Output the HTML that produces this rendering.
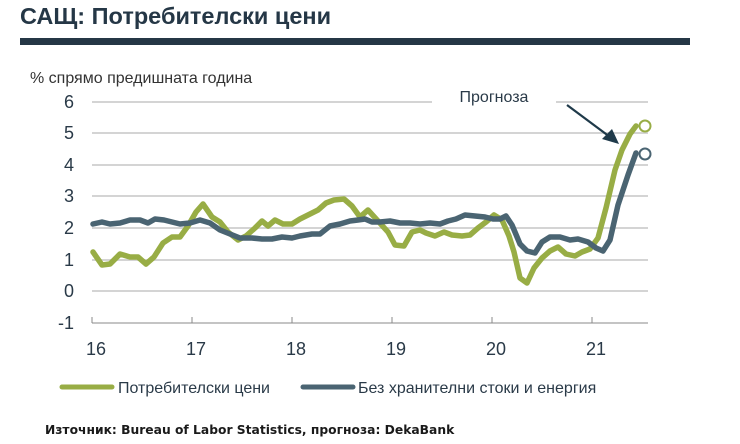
<!DOCTYPE html>
<html><head><meta charset="utf-8"><style>
body{margin:0;background:#fff;width:740px;height:444px;overflow:hidden}
svg{display:block}
</style></head><body>
<svg width="740" height="444" xmlns="http://www.w3.org/2000/svg" font-family="Liberation Sans, sans-serif">
<text x="20" y="24" font-size="23.5" font-weight="bold" fill="#253746">САЩ: Потребителски цени</text>
<rect x="20" y="38" width="670" height="7" fill="#253746"/>
<text x="30" y="83" font-size="16" fill="#333">% спрямо предишната година</text>
<g stroke="#d4d4d4" stroke-width="2">
<line x1="92" y1="102" x2="432" y2="102"/><line x1="556" y1="102" x2="648" y2="102"/>
<line x1="92" y1="133" x2="648" y2="133"/>
<line x1="92" y1="165" x2="648" y2="165"/>
<line x1="92" y1="196" x2="648" y2="196"/>
<line x1="92" y1="228" x2="648" y2="228"/>
<line x1="92" y1="260" x2="648" y2="260"/>
<line x1="92" y1="291" x2="648" y2="291"/>
</g>
<g stroke="#888" stroke-width="1">
<line x1="92" y1="323" x2="648" y2="323"/>
<line x1="92" y1="323" x2="92" y2="317"/><line x1="192" y1="323" x2="192" y2="317"/><line x1="292" y1="323" x2="292" y2="317"/><line x1="392" y1="323" x2="392" y2="317"/><line x1="492" y1="323" x2="492" y2="317"/><line x1="592" y1="323" x2="592" y2="317"/>
</g>
<g font-size="18" fill="#2a3a48" text-anchor="end">
<text x="74" y="108">6</text><text x="74" y="139">5</text><text x="74" y="171">4</text><text x="74" y="202">3</text><text x="74" y="234">2</text><text x="74" y="266">1</text><text x="74" y="297">0</text><text x="74" y="329">-1</text>
</g>
<g font-size="18" fill="#2a3a48" text-anchor="middle">
<text x="96" y="355">16</text><text x="196" y="355">17</text><text x="296" y="355">18</text><text x="396" y="355">19</text><text x="496" y="355">20</text><text x="596" y="355">21</text>
</g>
<text x="494" y="102" font-size="16" fill="#2a3a48" text-anchor="middle">Прогноза</text>
<line x1="567" y1="105" x2="610" y2="137" stroke="#1f3a4a" stroke-width="2.2"/>
<polygon points="619,144 602,139 612,129" fill="#1f3a4a"/>
<polyline fill="none" stroke="#98ad45" stroke-width="5.5" stroke-linejoin="round" stroke-linecap="round" points="93,252 102,265 110,264 120,254 130,257 138,257 146,264 154,257 163,243 172,237 180,237 188,226 196,212 203,204 212,217 220,222 228,232 238,240 246,236 255,228 262,221 268,226 275,220 283,224 292,224 300,219 310,214 318,210 326,203 334,200 344,199 352,206 360,217 368,210 378,221 388,232 395,245 404,246 412,232 420,230 426,233 435,236 444,232 452,235 462,236 470,235 478,228 486,222 494,215 502,220 509,236 514,252 520,278 527,283 534,268 542,258 550,251 558,247 566,254 575,256 582,252 590,249 598,238 606,208 615,170 622,150 630,134 636,126"/>
<polyline fill="none" stroke="#4a6472" stroke-width="5.5" stroke-linejoin="round" stroke-linecap="round" points="93,224 102,222 110,224 120,223 130,220 140,220 148,223 155,219 164,220 172,222 180,224 190,223 200,220 210,223 220,230 230,234 240,238 252,238 262,239 272,239 282,237 292,238 300,236 312,234 320,234 330,226 340,224 350,221 358,220 365,219 372,222 380,222 390,221 400,223 410,223 420,224 430,223 440,224 448,221 456,219 465,215 475,216 485,217 493,219 500,219 506,216 512,225 520,244 527,251 535,253 542,242 550,237 560,237 570,240 578,239 588,242 596,248 603,251 610,240 618,205 628,175 636,153"/>
<circle cx="645" cy="126" r="5.5" fill="#fff" stroke="#98ad45" stroke-width="2"/>
<circle cx="645" cy="154" r="5.5" fill="#fff" stroke="#4a6472" stroke-width="2"/>
<line x1="62" y1="387" x2="112" y2="387" stroke="#98ad45" stroke-width="5" stroke-linecap="round"/>
<text x="118" y="393" font-size="16" fill="#2a3a48">Потребителски цени</text>
<line x1="303" y1="387" x2="353" y2="387" stroke="#4a6472" stroke-width="5" stroke-linecap="round"/>
<text x="358" y="393" font-size="16" fill="#2a3a48">Без хранителни стоки и енергия</text>
<text x="45" y="434" font-size="12.3" font-weight="bold" fill="#1a1a1a" font-family="DejaVu Sans, sans-serif">Източник: Bureau of Labor Statistics, прогноза: DekaBank</text>
</svg>
</body></html>
